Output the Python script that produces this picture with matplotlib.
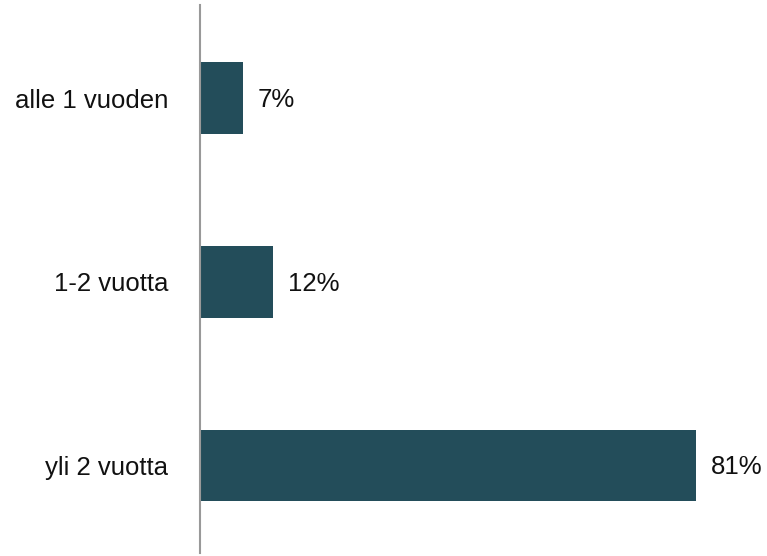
import matplotlib
matplotlib.use("Agg")
import matplotlib.pyplot as plt

categories = ["alle 1 vuoden", "1-2 vuotta", "yli 2 vuotta"]
values = [7, 12, 81]
value_labels = ["7%", "12%", "81%"]

plt.rcParams["font.family"] = ["Liberation Sans", "DejaVu Sans"]

fig = plt.figure(figsize=(7.67, 5.56), dpi=100)
ax = fig.add_axes([200 / 767, 3 / 556, 560 / 767, 548 / 556])

pos = list(range(len(categories)))
ax.barh(pos, values, height=0.39, color="#234d5a")
ax.set_xlim(0, 560 / 6.12)
ax.set_ylim(2.477, -0.507)

ax.set_yticks(pos)
ax.set_yticklabels(categories, fontsize=18.5, color="#111111")
ax.tick_params(axis="y", length=0, pad=23)
ax.set_xticks([])

for s in ["top", "right", "bottom"]:
    ax.spines[s].set_visible(False)
ax.spines["left"].set_color("#999999")
ax.spines["left"].set_linewidth(1.5)

for p, v, lab in zip(pos, values, value_labels):
    ax.annotate(lab, (v, p), xytext=(15, -2), textcoords="offset pixels",
                va="center", ha="left", fontsize=18.5, color="#111111")

fig.savefig("out.png", dpi=100)
